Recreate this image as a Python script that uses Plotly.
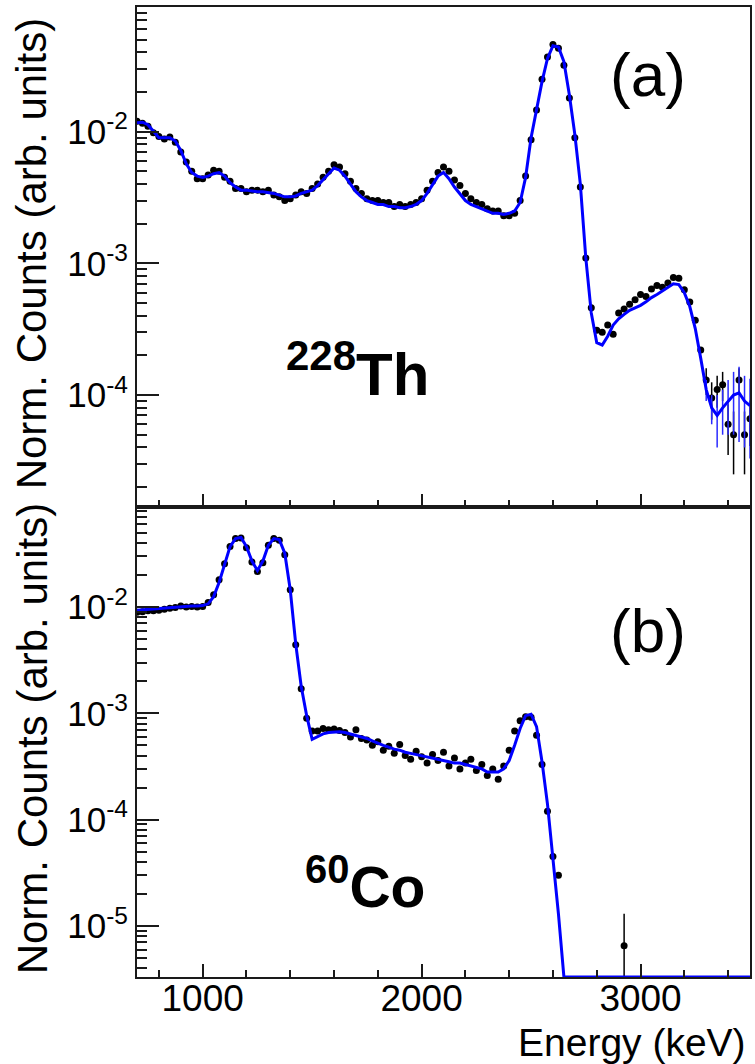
import plotly.graph_objects as go

# ---------------- data ----------------
energy_keV = list(range(700, 3501, 25))  # bin centres, keV

# (a) 228Th : measured (black points) and simulation (blue line)
th228_data = [
    0.0120, 0.0116, 0.0110, 0.0098, 0.0092, 0.0088, 0.0091, 0.0083, 0.0070, 0.0059,   # 700-925
    0.0050, 0.0044, 0.0044, 0.0047, 0.0051, 0.0050, 0.0045, 0.0042, 0.0037, 0.0037,   # 950-1175
    0.0035, 0.0036, 0.0036, 0.0035, 0.0036, 0.0033, 0.0032, 0.0030, 0.0031, 0.0033,   # 1200-1425
    0.0035, 0.0034, 0.0037, 0.0040, 0.0045, 0.0050, 0.0056, 0.0054, 0.0048, 0.0042,   # 1450-1675
    0.0037, 0.0034, 0.0031, 0.0030, 0.0030, 0.0029, 0.0029, 0.0027, 0.0028, 0.0027,   # 1700-1925
    0.0028, 0.0029, 0.0031, 0.0036, 0.0042, 0.0049, 0.0054, 0.0050, 0.0043, 0.0039,   # 1950-2175
    0.0034, 0.0031, 0.0029, 0.0028, 0.0026, 0.0025, 0.0025, 0.0023, 0.0023, 0.0024,   # 2200-2425
    0.0030, 0.0046, 0.0087, 0.0146, 0.025, 0.037, 0.046, 0.043, 0.032, 0.018,         # 2450-2675
    0.0090, 0.0038, 0.0011, 0.00046, 0.00031, 0.00030, 0.00034, 0.00029, 0.00042, 0.00045,  # 2700-2925
    0.00049, 0.00053, 0.00058, 0.00056, 0.00064, 0.00068, 0.00066, 0.00071, 0.00078, 0.00077,  # 2950-3175
    0.00063, 0.00051, 0.00037, 0.00022, 0.00013, 0.000095, 0.00011, 0.00012, 0.000060, 0.000050,  # 3200-3425
    0.00013, 0.000050, 0.000066,                                                       # 3450-3500
]
th228_model = [
    0.0117, 0.0118, 0.0113, 0.0101, 0.0090, 0.0090, 0.0090, 0.0085, 0.0072, 0.0057,
    0.0049, 0.0046, 0.0045, 0.0046, 0.0048, 0.0049, 0.0046, 0.0041, 0.0038, 0.0036,
    0.0036, 0.00355, 0.0035, 0.0035, 0.00345, 0.0034, 0.0033, 0.0032, 0.0032, 0.00325,
    0.0034, 0.0035, 0.0036, 0.0039, 0.0043, 0.0048, 0.0053, 0.0051, 0.0046, 0.0040,
    0.0035, 0.0032, 0.0030, 0.0029, 0.0028, 0.0028, 0.0027, 0.0027, 0.00265, 0.00265,
    0.0027, 0.0028, 0.0030, 0.0034, 0.0040, 0.0046, 0.0049, 0.0044, 0.0038, 0.0034,
    0.0030, 0.0028, 0.0027, 0.0026, 0.0025, 0.0024, 0.0024, 0.00235, 0.0024, 0.0025,
    0.0029, 0.0045, 0.0090, 0.0148, 0.024, 0.036, 0.045, 0.044, 0.034, 0.019,
    0.0095, 0.0040, 0.0011, 0.00042, 0.00025, 0.00024, 0.00028, 0.00034, 0.00038, 0.00041,
    0.00044, 0.00046, 0.00048, 0.00051, 0.00055, 0.00058, 0.00062, 0.00066, 0.00070, 0.00069,
    0.00060, 0.00047, 0.00032, 0.00019, 0.00011, 0.00008, 0.00007, 0.00008, 0.00009, 0.00010,
    0.000104, 0.00009, 0.000083,
]
# statistical errors visible in the high-energy tail of (a)
th228_tail_energy = [3300, 3325, 3350, 3375, 3400, 3425, 3450, 3475, 3500]
th228_tail_data_err = [0.00003, 0.00003, 0.00003, 0.00003, 0.000025, 0.000025, 0.00003, 0.000025, 0.000025]
th228_tail_model_err = [0.00002, 0.00002, 0.00003, 0.00003, 0.00004, 0.00005, 0.00006, 0.00005, 0.00005]

# (b) 60Co : measured (None = empty bin) and simulation (0 = empty bin)
co60_data = [
    0.0089, 0.0090, 0.0092, 0.0092, 0.0093, 0.0095, 0.0097, 0.0099, 0.0102, 0.0100,
    0.0101, 0.0100, 0.0101, 0.0110, 0.0130, 0.0180, 0.0255, 0.037, 0.044, 0.0445,
    0.036, 0.0265, 0.0215, 0.026, 0.038, 0.044, 0.0425, 0.031, 0.0145, 0.0044,
    0.0017, 0.0009, 0.00068, 0.00068, 0.00072, 0.00070, 0.00071, 0.00069, 0.00066, 0.00060,
    0.00070, 0.00058, 0.00056, 0.00050, 0.00054, 0.00045, 0.00049, 0.00042, 0.00051, 0.00040,
    0.00037, 0.00044, 0.00039, 0.00034, 0.00041, 0.00036, 0.00043, 0.00032, 0.00038, 0.00030,
    0.00034, 0.00037, 0.00029, 0.00033, 0.00026, 0.00030, 0.00024, 0.00032, 0.00045, 0.00068,
    0.00085, 0.00093, 0.00092, 0.00062, 0.00033, 0.00012, 0.000045, 0.00003, None, None,
    None, None, None, None, None, None, None, None, None, 0.0000065,
    None, None, None, None, None, None, None, None, None, None,
    None, None, None, None, None, None, None, None, None, None,
    None, None, None,
]
co60_model = [
    0.0093, 0.0094, 0.0095, 0.0096, 0.0097, 0.0098, 0.0099, 0.0100, 0.0100, 0.0101,
    0.0102, 0.0102, 0.0103, 0.0107, 0.0125, 0.0170, 0.0250, 0.037, 0.044, 0.045,
    0.037, 0.027, 0.022, 0.027, 0.038, 0.044, 0.043, 0.032, 0.0145, 0.0045,
    0.0018, 0.00095, 0.00057, 0.00060, 0.00064, 0.00066, 0.00067, 0.00067, 0.00066, 0.00064,
    0.00062, 0.00060, 0.00058, 0.00055, 0.00052, 0.00050, 0.00048, 0.00046, 0.00045, 0.00043,
    0.00042, 0.00041, 0.00040, 0.00039, 0.00038, 0.00037, 0.00036, 0.00035, 0.00034, 0.00034,
    0.00033, 0.00032, 0.00031, 0.00030, 0.00028, 0.00028, 0.00028, 0.00030, 0.00036, 0.00050,
    0.00072, 0.00095, 0.00098, 0.00075, 0.00035, 0.00014, 0.000045, 0.000013, 0, 0,
    0, 0, 0, 0, 0, 0, 0, 0, 0, 0,
    0, 0, 0, 0, 0, 0, 0, 0, 0, 0,
    0, 0, 0, 0, 0, 0, 0, 0, 0, 0,
    0, 0, 0,
]
co60_err_energy = [2925]
co60_err_plus = [0.0000065]
co60_err_minus = [0.0000062]

# ticks
y_major_vals = [1e-5, 1e-4, 1e-3, 1e-2]
y_major_text = ["10<sup>-5</sup>", "10<sup>-4</sup>", "10<sup>-3</sup>", "10<sup>-2</sup>"]
x_major_vals = [1000, 2000, 3000]
x_major_text = ["1000", "2000", "3000"]

# ---------------- layout constants ----------------
W, H = 755, 1064
ML, MR, MT, MB = 137, 3, 7, 87
PW, PH = W - ML - MR, H - MT - MB
SPLIT_PX = 507                       # pixel row of the shared border
split = (H - MB - SPLIT_PX) / PH     # paper fraction

TOP_RANGE = [-4.85, -1.053]
BOT_RANGE = [-5.48, -1.06]
FONT = "Liberation Sans, Arial, Helvetica, sans-serif"


def px(xp):
    return (xp - ML) / PW


def py(yp):
    return (H - MB - yp) / PH


def errs(keys, vals):
    m = dict(zip(keys, vals))
    return [m.get(e, 0) for e in energy_keV]


floor_b = 10 ** BOT_RANGE[0]
co60_model_plot = [v if v > 0 else floor_b for v in co60_model]

fig = go.Figure()

# (a)
fig.add_trace(go.Scatter(
    x=energy_keV, y=th228_data, mode="markers", xaxis="x", yaxis="y",
    marker=dict(color="black", size=7, symbol="circle"),
    error_y=dict(type="data", array=errs(th228_tail_energy, th228_tail_data_err),
                 color="black", thickness=1.5, width=0),
    showlegend=False))
fig.add_trace(go.Scatter(
    x=energy_keV, y=th228_model, mode="lines", xaxis="x", yaxis="y",
    line=dict(color="#0000ff", width=3),
    error_y=dict(type="data", array=errs(th228_tail_energy, th228_tail_model_err),
                 color="#2a2aff", thickness=1.5, width=0),
    showlegend=False))

# (b)
fig.add_trace(go.Scatter(
    x=energy_keV, y=co60_data, mode="markers", xaxis="x2", yaxis="y2",
    marker=dict(color="black", size=7, symbol="circle"),
    error_y=dict(type="data", array=errs(co60_err_energy, co60_err_plus),
                 arrayminus=errs(co60_err_energy, co60_err_minus),
                 color="black", thickness=1.5, width=0),
    showlegend=False))
fig.add_trace(go.Scatter(
    x=energy_keV, y=co60_model_plot, mode="lines", xaxis="x2", yaxis="y2",
    line=dict(color="#0000ff", width=3),
    showlegend=False))

frame = dict(showline=True, linecolor="#1a1a1a", linewidth=2, mirror=True,
             showgrid=False, zeroline=False)
x_minor = [v for v in range(800, 3500, 200) if v % 1000]
y_minor = [k * 10.0 ** p for p in range(-7, 0) for k in range(2, 10)]

xcommon = dict(frame, range=[700, 3500], ticks="inside", ticklen=13, tickwidth=2,
               tickcolor="#1a1a1a", tickmode="array", tickvals=x_major_vals,
               ticktext=x_major_text,
               minor=dict(ticks="inside", ticklen=7, tickwidth=2, tickcolor="#1a1a1a",
                          tickmode="array", tickvals=x_minor),
               tickfont=dict(family=FONT, size=37, color="black"))
ycommon = dict(frame, type="log", ticks="inside", ticklen=22, tickwidth=2,
               tickcolor="#1a1a1a", tickmode="array", tickvals=y_major_vals,
               ticktext=y_major_text,
               minor=dict(ticks="inside", ticklen=10, tickwidth=2, tickcolor="#1a1a1a",
                          tickmode="array", tickvals=y_minor),
               tickfont=dict(family=FONT, size=35, color="black"),
               ticklabelstandoff=0)

fig.update_layout(
    width=W, height=H,
    margin=dict(l=ML, r=MR, t=MT, b=MB, pad=0),
    paper_bgcolor="white", plot_bgcolor="white",
    xaxis=dict(xcommon, domain=[0, 1], anchor="y", showticklabels=False),
    yaxis=dict(ycommon, domain=[split, 1], anchor="x", range=TOP_RANGE),
    xaxis2=dict(xcommon, domain=[0, 1], anchor="y2", ticklabelstandoff=-12),
    yaxis2=dict(ycommon, domain=[0, split], anchor="x2", range=BOT_RANGE),
    font=dict(family=FONT, color="black"),
)

ann = [
    dict(text="Norm. Counts (arb. units)", x=px(32), y=py(254), textangle=-90,
         font=dict(size=42)),
    dict(text="Norm. Counts (arb. units)", x=px(32), y=py(739), textangle=-90,
         font=dict(size=42)),
    dict(text="(a)", x=px(650), y=py(75), font=dict(size=62)),
    dict(text="(b)", x=px(650), y=py(631), font=dict(size=62)),
    dict(text="<b><sup>228</sup>Th</b>", x=px(358), y=py(370), font=dict(size=60)),
    dict(text="<b><sup>60</sup>Co</b>", x=px(366), y=py(883), font=dict(size=57)),
    dict(text="Energy (keV)", x=px(750), y=py(1042), xanchor="right",
         font=dict(size=39)),
]
for a in ann:
    a.setdefault("xanchor", "center")
    a.setdefault("yanchor", "middle")
    a.update(xref="paper", yref="paper", showarrow=False)
    a["font"] = dict(family=FONT, color="black", **a["font"])
fig.update_layout(annotations=ann)

fig.write_html("out.html")
